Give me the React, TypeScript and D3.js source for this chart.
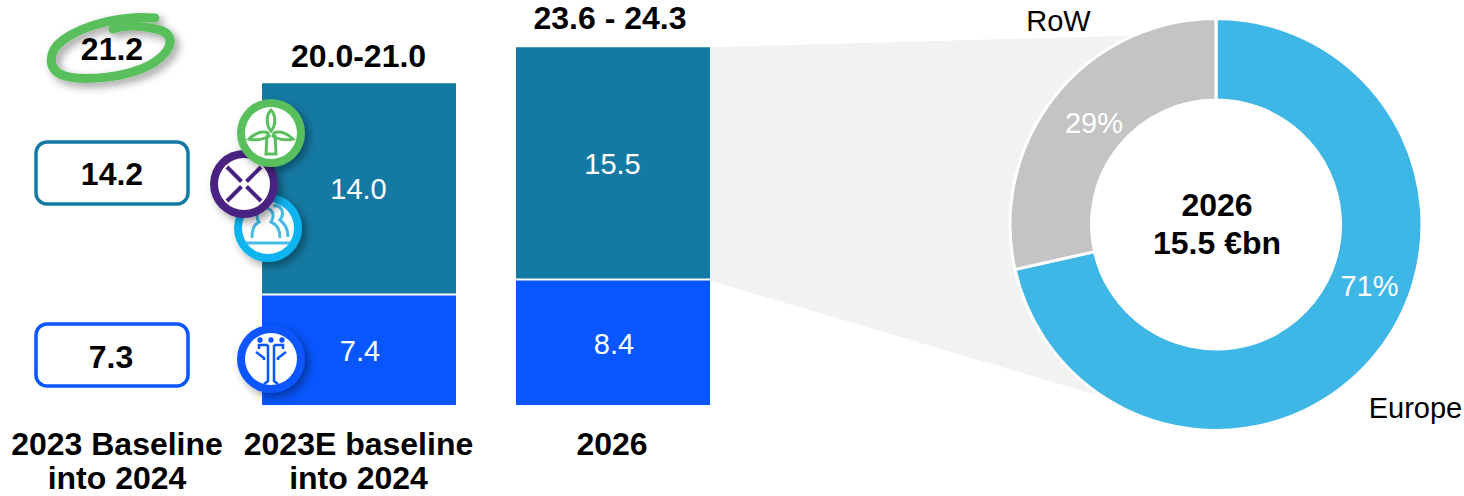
import React from "react";
import * as d3 from "d3";

const FONT = "'Liberation Sans', Arial, sans-serif";
const DARK = "#157AA3";
const BLUE = "#0856FF";
const GREEN = "#59BF5C";
const PURPLE = "#4A2282";
const CYAN = "#0CB4F0";

const barCategories = ["2023E baseline", "2026"];
const lowerHeights = [7.3, 8.3];
const upperHeights = [14.15, 15.55];
const lowerLabels = ["7.4", "8.4"];
const upperLabels = ["14.0", "15.5"];
const totalLabels = ["20.0-21.0", "23.6 - 24.3"];
const totalOffsets = [16, 18];
const totalCenters = [358.5, 610];

const donutNames = ["Europe", "RoW"];
const donutShares = [71.5, 28.5];
const donutLabels = ["71%", "29%"];
const donutColors = ["#3FB7E6", "#C4C4C4"];

const W = 1464, H = 496;
const y = d3.scaleLinear().domain([0, 24]).range([405, 45]);
const x = d3.scaleOrdinal<string, number>().domain(barCategories).range([262, 516]);
const BAR_W = 194;

const cx = 1216, cy = 224.5, rO = 206, rI = 124.5;
const pie = d3.pie<number>().sort(null).startAngle(0).endAngle(2 * Math.PI);
const arcGen = d3.arc<d3.PieArcDatum<number>>().innerRadius(rI).outerRadius(rO);
const arcs = pie(donutShares);

function connector() {
  const p = d3.path();
  const a0 = Math.atan2(34 - cy, 1133 - cx);
  const a1 = Math.atan2(398 - cy, 1103 - cx);
  p.moveTo(x("2026") + BAR_W, y(upperHeights[1] + lowerHeights[1]));
  p.lineTo(cx + rO * Math.cos(a0), cy + rO * Math.sin(a0));
  p.arc(cx, cy, rO, a0, a1, true);
  p.lineTo(x("2026") + BAR_W, y(lowerHeights[1]));
  p.closePath();
  return p.toString();
}

const T = (p: any) => <text fontFamily={FONT} textAnchor="middle" {...p} />;

function Badge({ cx, cy, color, children }: any) {
  return (
    <g transform={`translate(${cx},${cy})`}>
      <circle r={34} fill={color} filter="url(#shadow)" />
      <circle r={26} fill="#fff" />
      {children}
    </g>
  );
}

export default function App() {
  return (
    <svg width={W} height={H} style={{ position: "absolute", left: 0, top: 0 }}>
      <defs>
        <filter id="shadow" x="-40%" y="-40%" width="190%" height="190%">
          <feDropShadow dx="4" dy="4" stdDeviation="4" floodColor="#000" floodOpacity="0.38" />
        </filter>
      </defs>

      {/* first column */}
      <path
        d="M155,18 C125,15 85,24 63,40 C47,52 48,69 62,75 C82,82 130,78 155,62 C172,50 176,36 160,30 C145,26 125,24 113,29"
        fill="none" stroke={GREEN} strokeWidth={9} strokeLinecap="round" filter="url(#shadow)"
      />
      <T x={112} y={60} fontSize={32} fontWeight="bold">21.2</T>
      <rect x={36} y={142} width={152} height={62} rx={11} fill="#fff" stroke={DARK} strokeWidth={3.5} />
      <T x={112} y={185} fontSize={32} fontWeight="bold">14.2</T>
      <rect x={36} y={324} width={152} height={62} rx={11} fill="#fff" stroke={BLUE} strokeWidth={3.5} />
      <T x={111} y={368} fontSize={32} fontWeight="bold">7.3</T>

      {/* connector */}
      <path d={connector()} fill="#F2F2F2" />

      {/* bars */}
      {barCategories.map((c, i) => {
        const bx = x(c);
        const lower = lowerHeights[i];
        const upper = upperHeights[i];
        const yl = y(lower), yu = y(lower + upper);
        return (
          <g key={c}>
            <rect x={bx} y={yl} width={BAR_W} height={y(0) - yl} fill={BLUE} />
            <rect x={bx} y={yu} width={BAR_W} height={yl - yu - 2} fill={DARK} />
            <T x={bx + BAR_W / 2 + 1} y={(yl + y(0)) / 2 + 11} fontSize={29} fill="#fff">{lowerLabels[i]}</T>
            <T x={bx + BAR_W / 2 - 0.5} y={(yu + yl) / 2 + 10} fontSize={29} fill="#fff">{upperLabels[i]}</T>
            <T x={totalCenters[i]} y={yu - totalOffsets[i]} fontSize={32} fontWeight="bold">{totalLabels[i]}</T>
          </g>
        );
      })}

      {/* icons */}
      <Badge cx={268} cy={228} color={CYAN}>
        <g fill="none" stroke="#45BCE8" strokeWidth={3}>
          <path d="M-22,15 H22" />
          <path d="M-16,10 C-16,-2 -12,-4 -9,-6 C-14,-14 -8,-20 -3,-20 C3,-20 8,-14 3,-6 C8,-4 12,0 12,10" />
          <path d="M5,-22 C12,-24 18,-16 12,-8 C16,-5 20,0 20,9" />
        </g>
      </Badge>
      <Badge cx={244} cy={184} color={PURPLE}>
        <g stroke={PURPLE} strokeWidth={4}>
          <path d="M-2.5,-2.5 L-17,-17 M2.5,-2.5 L17,-17 M-2.5,2.5 L-17,17 M2.5,2.5 L17,17" />
        </g>
      </Badge>
      <Badge cx={271} cy={133} color={GREEN}>
        <g fill="none" stroke={GREEN} strokeWidth={3}>
          <path d="M-4,2 L-5,21 H5 L4,2" />
          <path d="M0,-2 C-5,-8 -5,-18 0,-23 C5,-18 5,-8 0,-2 Z" />
          <path d="M-3,0 C-10,-3 -18,2 -22,6 C-14,8 -6,6 -2,3 Z" />
          <path d="M3,0 C10,-3 18,2 22,6 C14,8 6,6 2,3 Z" />
        </g>
      </Badge>
      <Badge cx={271} cy={359} color={BLUE}>
        <g fill="none" stroke={BLUE} strokeWidth={2.5}>
          <path d="M-3,-14 V22 L-7,25 M3,-14 V22 L7,25" />
          <path d="M-3,-14 H-12 V-10 M3,-14 H12 V-10" />
          <path d="M-15,-7 L-7,-1 V1 M15,-7 L7,-1 V1" />
          <circle cx={-11} cy={-19} r={1.4} fill={BLUE} />
          <circle cx={0} cy={-19} r={1.4} fill={BLUE} />
          <circle cx={11} cy={-19} r={1.4} fill={BLUE} />
        </g>
      </Badge>

      {/* donut */}
      <g transform={`translate(${cx},${cy})`}>
        <circle r={rO + 1} fill="#fff" />
        {arcs.map((a, i) => (
          <path key={donutNames[i]} d={arcGen(a) as string} fill={donutColors[i]} stroke="#fff" strokeWidth={3} />
        ))}
      </g>
      <T x={1369.5} y={296} fontSize={29} fill="#fff">{donutLabels[0]}</T>
      <T x={1094} y={133} fontSize={29} fill="#fff">{donutLabels[1]}</T>
      <T x={1217} y={216} fontSize={32} fontWeight="bold">2026</T>
      <T x={1217} y={254} fontSize={32} fontWeight="bold">15.5 €bn</T>
      <T x={1058.5} y={31} fontSize={29}>{donutNames[1]}</T>
      <T x={1415.5} y={418} fontSize={29}>{donutNames[0]}</T>

      {/* categories */}
      <T x={117} y={455} fontSize={32} fontWeight="bold">2023 Baseline</T>
      <T x={117} y={489} fontSize={32} fontWeight="bold">into 2024</T>
      <T x={358.5} y={455} fontSize={32} fontWeight="bold">2023E baseline</T>
      <T x={358.5} y={489} fontSize={32} fontWeight="bold">into 2024</T>
      <T x={612} y={455} fontSize={32} fontWeight="bold">2026</T>
    </svg>
  );
}
